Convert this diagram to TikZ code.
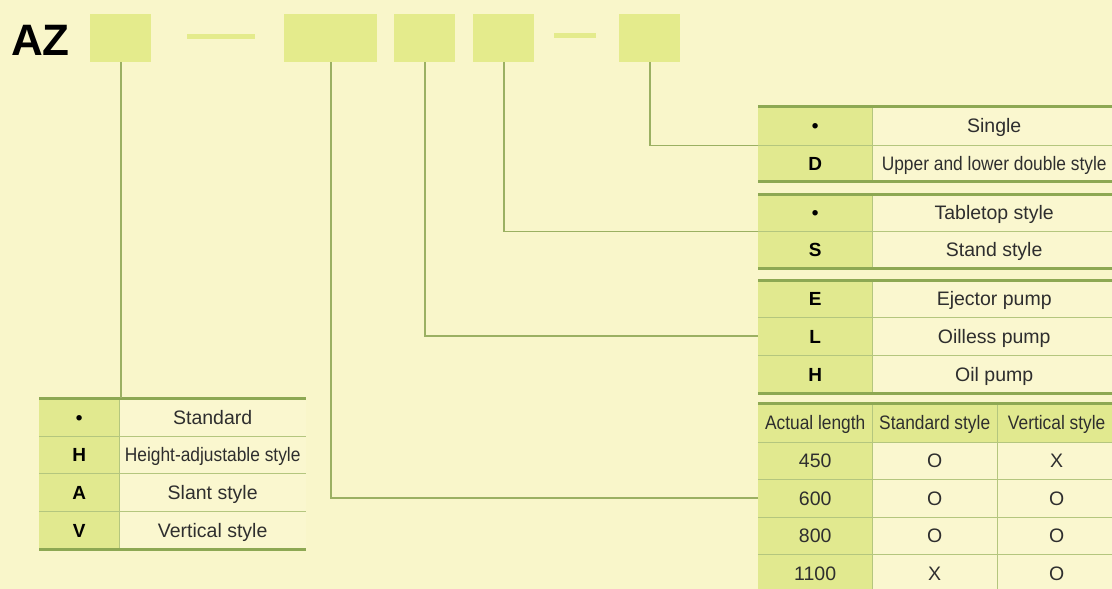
\documentclass[tikz,border=0pt]{standalone}
\usepackage{fontspec}
\setmainfont{Liberation Sans}
\usepackage{graphicx}
\definecolor{bg}{HTML}{F9F6CA}
\definecolor{boxg}{HTML}{E4EB8C}
\definecolor{cellg}{HTML}{E1E98F}
\definecolor{celll}{HTML}{FAF7CF}
\definecolor{thickc}{HTML}{8DA853}
\definecolor{thinc}{HTML}{B4C67E}
\definecolor{connc}{HTML}{9BB062}
\definecolor{txt}{HTML}{2E2E2E}
\newcommand\cnd[1]{\scalebox{0.89}[1]{#1}}
\begin{document}
\begin{tikzpicture}[x=1pt,y=-1pt,
  codebox/.style={fill=boxg,draw=none,inner sep=0,anchor=north west},
  cellbase/.style={draw=none,inner sep=0,anchor=north west,text height=16pt,text depth=2pt},
  lc/.style={cellbase,fill=cellg,text=black,
    font=\bfseries\fontsize{19}{20}\selectfont},
  rc/.style={cellbase,fill=celll,text=txt,
    font=\fontsize{19.5}{21}\selectfont},
  hc/.style={cellbase,fill=cellg,text=txt,
    font=\fontsize{19.5}{21}\selectfont},
  thickl/.style={draw=thickc,line width=3pt},
  thinl/.style={draw=thinc,line width=1.5pt},
  vl/.style={draw=thinc,line width=1pt},
  conn/.style={draw=connc,line width=1.6pt}]
\fill[bg] (0,0) rectangle (1112,589);
\useasboundingbox (0,0) rectangle (1112,589);
\clip (0,0) rectangle (1112,589);

% code line
\node[anchor=base west,inner sep=0,font=\bfseries\fontsize{44}{46}\selectfont] (az) at (11,55) {AZ};
\node[codebox,minimum width=61,minimum height=48] (b1) at (90,14) {};
\node[codebox,minimum width=68,minimum height=5] (d1) at (187,34) {};
\node[codebox,minimum width=93,minimum height=48] (b2) at (284,14) {};
\node[codebox,minimum width=61,minimum height=48] (b3) at (394,14) {};
\node[codebox,minimum width=61,minimum height=48] (b4) at (473,14) {};
\node[codebox,minimum width=42,minimum height=5] (d2) at (554,33) {};
\node[codebox,minimum width=61,minimum height=48] (b5) at (619,14) {};

% table 1
\node[lc,minimum width=114,minimum height=39] (t1a) at (758,106) {\textbullet};
\node[rc,minimum width=244,minimum height=39] (t1b) at (872,106) {Single};
\node[lc,minimum width=114,minimum height=36] (t1c) at (758,145) {D};
\node[rc,minimum width=244,minimum height=36] (t1d) at (872,145) {\cnd{Upper and lower double style}};
% table 2
\node[lc,minimum width=114,minimum height=37] (t2a) at (758,194) {\textbullet};
\node[rc,minimum width=244,minimum height=37] (t2b) at (872,194) {Tabletop style};
\node[lc,minimum width=114,minimum height=37] (t2c) at (758,231) {S};
\node[rc,minimum width=244,minimum height=37] (t2d) at (872,231) {Stand style};
% table 3
\node[lc,minimum width=114,minimum height=37] (t3a) at (758,280) {E};
\node[rc,minimum width=244,minimum height=37] (t3b) at (872,280) {Ejector pump};
\node[lc,minimum width=114,minimum height=38] (t3c) at (758,317) {L};
\node[rc,minimum width=244,minimum height=38] (t3d) at (872,317) {Oilless pump};
\node[lc,minimum width=114,minimum height=38] (t3e) at (758,355) {H};
\node[rc,minimum width=244,minimum height=38] (t3f) at (872,355) {Oil pump};
% table 4
\node[hc,minimum width=114,minimum height=39] (t4h1) at (758,403) {\cnd{Actual length}};
\node[hc,minimum width=125,minimum height=39] (t4h2) at (872,403) {\cnd{Standard style}};
\node[hc,minimum width=119,minimum height=39] (t4h3) at (997,403) {\cnd{Vertical style}};
\node[hc,minimum width=114,minimum height=37] (t4a1) at (758,442) {450};
\node[rc,minimum width=125,minimum height=37] (t4a2) at (872,442) {O};
\node[rc,minimum width=119,minimum height=37] (t4a3) at (997,442) {X};
\node[hc,minimum width=114,minimum height=38] (t4b1) at (758,479) {600};
\node[rc,minimum width=125,minimum height=38] (t4b2) at (872,479) {O};
\node[rc,minimum width=119,minimum height=38] (t4b3) at (997,479) {O};
\node[hc,minimum width=114,minimum height=37] (t4c1) at (758,517) {800};
\node[rc,minimum width=125,minimum height=37] (t4c2) at (872,517) {O};
\node[rc,minimum width=119,minimum height=37] (t4c3) at (997,517) {O};
\node[hc,minimum width=114,minimum height=38] (t4d1) at (758,554) {1100};
\node[rc,minimum width=125,minimum height=38] (t4d2) at (872,554) {X};
\node[rc,minimum width=119,minimum height=38] (t4d3) at (997,554) {O};
% left table
\node[lc,minimum width=80,minimum height=38] (l1a) at (39,398) {\textbullet};
\node[rc,minimum width=187,minimum height=38] (l1b) at (119,398) {Standard};
\node[lc,minimum width=80,minimum height=37] (l2a) at (39,436) {H};
\node[rc,minimum width=187,minimum height=37] (l2b) at (119,436) {\cnd{Height-adjustable style}};
\node[lc,minimum width=80,minimum height=38] (l3a) at (39,473) {A};
\node[rc,minimum width=187,minimum height=38] (l3b) at (119,473) {Slant style};
\node[lc,minimum width=80,minimum height=38] (l4a) at (39,511) {V};
\node[rc,minimum width=187,minimum height=38] (l4b) at (119,511) {Vertical style};

% vertical dividers
\draw[vl] (t1a.north east) -- (t1c.south east);
\draw[vl] (t2a.north east) -- (t2c.south east);
\draw[vl] (t3a.north east) -- (t3e.south east);
\draw[vl] (t4h1.north east) -- (t4d1.south east);
\draw[vl] (t4h2.north east) -- (t4d2.south east);
\draw[vl] (l1a.north east) -- (l4a.south east);

% thin row lines
\draw[thinl] (t1a.south west) -- (t1b.south east);
\draw[thinl] (t2a.south west) -- (t2b.south east);
\draw[thinl] (t3a.south west) -- (t3b.south east);
\draw[thinl] (t3c.south west) -- (t3d.south east);
\draw[thinl] (t4h1.south west) -- (t4h3.south east);
\draw[thinl] (t4a1.south west) -- (t4a3.south east);
\draw[thinl] (t4b1.south west) -- (t4b3.south east);
\draw[thinl] (t4c1.south west) -- (t4c3.south east);
\draw[thinl] (l1a.south west) -- (l1b.south east);
\draw[thinl] (l2a.south west) -- (l2b.south east);
\draw[thinl] (l3a.south west) -- (l3b.south east);

% thick table borders
\draw[thickl] (t1a.north west) -- (t1b.north east);
\draw[thickl] (t1c.south west) -- (t1d.south east);
\draw[thickl] (t2a.north west) -- (t2b.north east);
\draw[thickl] (t2c.south west) -- (t2d.south east);
\draw[thickl] (t3a.north west) -- (t3b.north east);
\draw[thickl] (t3e.south west) -- (t3f.south east);
\draw[thickl] (t4h1.north west) -- (t4h3.north east);
\draw[thickl] (l1a.north west) -- (l1b.north east);
\draw[thickl] (l4a.south west) -- (l4b.south east);

% connectors
\draw[conn] (b1.south) -- (b1.south |- l1a.north);
\draw[conn] (b2.south) |- (t4b1.west);
\draw[conn] (b3.south) |- (t3c.west);
\draw[conn] (b4.south) |- (t2a.south west);
\draw[conn] (b5.south) |- (t1a.south west);
\end{tikzpicture}
\end{document}
